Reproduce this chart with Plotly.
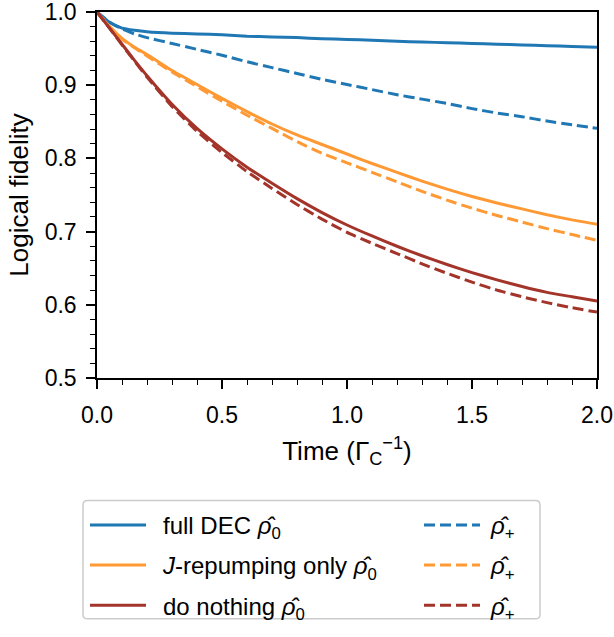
import plotly.graph_objects as go

# Time axis, in units of 1/Gamma_C
time = [0.0, 0.05, 0.1, 0.15, 0.2, 0.3, 0.4, 0.5, 0.6, 0.7, 0.8, 0.9, 1.0,
        1.1, 1.2, 1.3, 1.4, 1.5, 1.6, 1.7, 1.8, 1.9, 2.0]

# Logical fidelity for each protocol, starting in rho_0 (solid) or rho_+ (dashed)
full_dec_rho0 = [1.000, 0.986, 0.978, 0.975, 0.973, 0.971, 0.970, 0.969, 0.967, 0.966, 0.965, 0.9635,
                 0.9625, 0.9615, 0.960, 0.959, 0.958, 0.957, 0.956, 0.955, 0.954, 0.953, 0.952]
full_dec_rhop = [1.000, 0.986, 0.977, 0.970, 0.965, 0.957, 0.949, 0.941, 0.932, 0.924, 0.916, 0.908,
                 0.901, 0.894, 0.887, 0.881, 0.875, 0.868, 0.862, 0.857, 0.851, 0.846, 0.841]
repump_rho0 = [1.000, 0.980, 0.964, 0.952, 0.942, 0.920, 0.901, 0.882, 0.864, 0.847, 0.832, 0.819,
               0.806, 0.793, 0.781, 0.769, 0.758, 0.748, 0.739, 0.731, 0.723, 0.716, 0.710]
repump_rhop = [1.000, 0.980, 0.963, 0.951, 0.940, 0.918, 0.898, 0.878, 0.859, 0.841, 0.823, 0.807,
               0.794, 0.781, 0.768, 0.755, 0.743, 0.732, 0.722, 0.713, 0.704, 0.696, 0.688]
nothing_rho0 = [1.000, 0.978, 0.956, 0.934, 0.913, 0.874, 0.841, 0.813, 0.788, 0.766, 0.745, 0.726,
                0.709, 0.694, 0.680, 0.667, 0.655, 0.644, 0.634, 0.625, 0.617, 0.611, 0.605]
nothing_rhop = [1.000, 0.978, 0.955, 0.933, 0.911, 0.871, 0.837, 0.808, 0.782, 0.759, 0.737, 0.717,
                0.699, 0.684, 0.670, 0.656, 0.643, 0.631, 0.620, 0.611, 0.603, 0.596, 0.590]

# Tick positions
x_ticks = [0.0, 0.5, 1.0, 1.5, 2.0]
y_ticks = [0.5, 0.6, 0.7, 0.8, 0.9, 1.0]

RHO0 = "<i>ρ̂</i><sub>0</sub>"
RHOP = "<i>ρ̂</i><sub>+</sub>"
GAP_L = "\u2002"   # en space between key line and label (left column)
GAP_R = "\u2005"   # narrower space for the right column

labels = [
    GAP_L + "full DEC " + RHO0,
    GAP_R + RHOP,
    GAP_L + "<i>J</i>-repumping only " + RHO0,
    GAP_R + RHOP,
    GAP_L + "do nothing " + RHO0,
    GAP_R + RHOP,
]
values = [full_dec_rho0, full_dec_rhop, repump_rho0, repump_rhop, nothing_rho0, nothing_rhop]
colors = ["#1f77b4", "#1f77b4", "#ff9933", "#ff9933", "#a3342a", "#a3342a"]
dashes = ["solid", "11px,5px", "solid", "11px,5px", "solid", "11px,5px"]
# solid curves go in the left legend column, dashed ones in the right column
legend_ids = ["legend", "legend2", "legend", "legend2", "legend", "legend2"]

FONT = "Liberation Sans, Arial, Helvetica, sans-serif"
FS = 22

fig = go.Figure()
for i, (lab, vals, col, dsh, lg) in enumerate(zip(labels, values, colors, dashes, legend_ids)):
    fig.add_trace(go.Scatter(
        x=time, y=vals, mode="lines", name=lab,
        legend=lg, legendgroup="g%d" % i,
        line=dict(color=col, width=3, dash=dsh, shape="spline", smoothing=0.5),
    ))

legend_common = dict(
    orientation="v", yanchor="top", xanchor="left", y=-0.341,
    bgcolor="rgba(0,0,0,0)", borderwidth=0,
    itemwidth=56, tracegroupgap=6, valign="middle",
    font=dict(family=FONT, size=24, color="black"),
)

fig.update_layout(
    width=614, height=637,
    margin=dict(l=97, r=17, t=12, b=259, autoexpand=False),
    plot_bgcolor="white", paper_bgcolor="white",
    font=dict(family=FONT, size=FS, color="black"),
    legend=dict(x=-0.024, **legend_common),
    legend2=dict(x=0.644, **legend_common),
)

# Frame around both legend columns (rounded corners)
bx0, bx1, by0, by1 = -0.028, 0.886, -0.658, -0.335
rx, ry = 0.009, 0.012
frame = (
    f"M {bx0 + rx},{by1} L {bx1 - rx},{by1} Q {bx1},{by1} {bx1},{by1 - ry} "
    f"L {bx1},{by0 + ry} Q {bx1},{by0} {bx1 - rx},{by0} "
    f"L {bx0 + rx},{by0} Q {bx0},{by0} {bx0},{by0 + ry} "
    f"L {bx0},{by1 - ry} Q {bx0},{by1} {bx0 + rx},{by1} Z"
)
fig.add_shape(type="path", path=frame, xref="paper", yref="paper",
              line=dict(color="#cccccc", width=1.5), fillcolor="rgba(0,0,0,0)", layer="below")

axis_common = dict(
    ticks="outside", ticklen=9, tickwidth=1.5, tickcolor="black",
    showline=True, linecolor="black", linewidth=1.5, mirror=True,
    showgrid=False, zeroline=False, tickformat=".1f", tickmode="array",
    ticklabeloverflow="allow", tickfont=dict(family=FONT, size=23),
)

fig.update_xaxes(
    range=[0, 2], tickvals=x_ticks, ticklabelstandoff=7,
    minor=dict(dtick=0.1, tick0=0, ticks="outside", ticklen=5, tickwidth=1.2,
               tickcolor="black", showgrid=False),
    title=dict(text="Time (Γ<sub>C</sub><sup>−1</sup>)", standoff=14),
    **axis_common,
)
fig.update_yaxes(
    range=[0.5, 1.0], tickvals=y_ticks, ticklabelstandoff=5,
    minor=dict(dtick=0.02, tick0=0.5, ticks="outside", ticklen=5, tickwidth=1.2,
               tickcolor="black", showgrid=False),
    title=dict(text="Logical fidelity", standoff=9),
    **axis_common,
)

fig.write_html("out.html")
